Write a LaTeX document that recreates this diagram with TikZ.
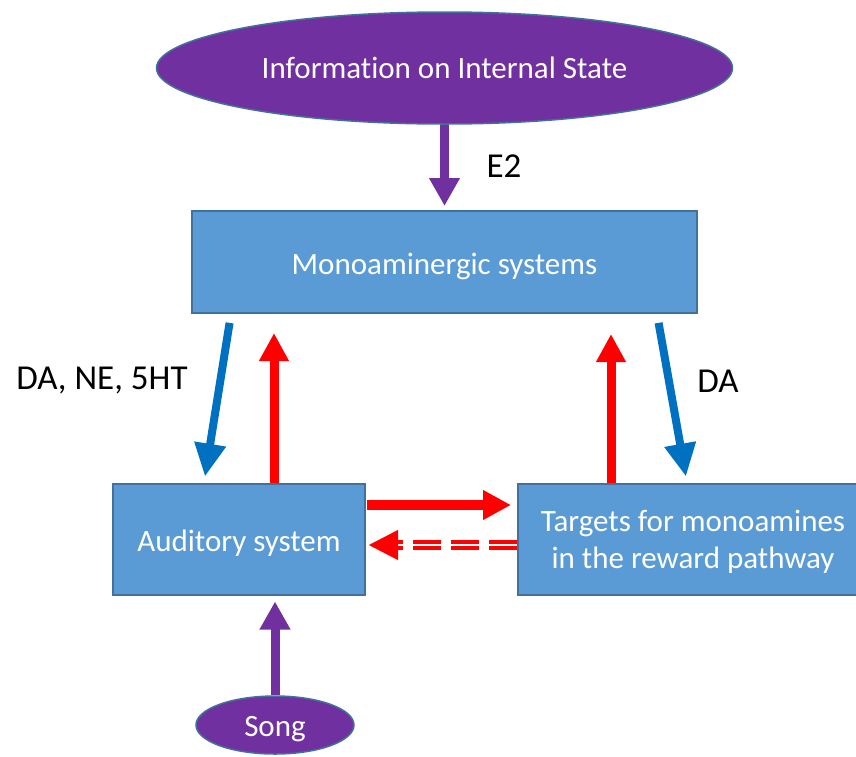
\documentclass[tikz,border=0pt]{standalone}
\usepackage{fontspec}
\setmainfont{Carlito}[Ligatures=NoCommon]
\usetikzlibrary{arrows.meta,shapes.geometric,calc}
\definecolor{ppl}{HTML}{7030A0}
\definecolor{boxfill}{HTML}{5B9BD5}
\definecolor{boxedge}{HTML}{41719C}
\definecolor{darrow}{HTML}{0070C0}
\definecolor{rarrow}{HTML}{FF0000}
\newcommand{\lowtext}[1]{\raisebox{0pt}[\dimexpr\height+8pt\relax][\depth]{#1}}
\tikzset{
  blk/.style={rectangle, draw=boxedge, line width=2pt, fill=boxfill, text=white, inner sep=0pt, align=center, font=\fontsize{31}{37}\selectfont},
  oval/.style={ellipse, draw=boxedge, line width=1.5pt, fill=ppl, text=white, inner sep=0pt, font=\fontsize{31}{37}\selectfont},
  lbl/.style={inner sep=0pt, text=black, font=\fontsize{35}{42}\selectfont},
  parrow/.style={draw=ppl, line width=9pt, -{Triangle[length=28pt,width=29pt]}},
  barrow/.style={draw=darrow, line width=8pt, -{Triangle[length=33pt,width=30pt]}},
  rarr/.style={draw=rarrow, line width=9pt, -{Triangle[length=28pt,width=28pt]}},
}
\begin{document}
\begin{tikzpicture}[x=1pt,y=-1pt]
\useasboundingbox (0,0) rectangle (856,756);
\node[oval, minimum width=576pt, minimum height=112pt] (info) at (444.5,68) {Information on Internal State};
\node[blk, minimum width=505pt, minimum height=102pt] (mono) at (444.5,262) {\lowtext{Monoaminergic systems}};
\node[blk, minimum width=252pt, minimum height=111pt] (aud) at (239,539) {\lowtext{Auditory system}};
\node[blk, minimum width=350pt, minimum height=111pt] (targ) at (693,539) {\lowtext{\begin{tabular}{@{}c@{}}Targets for monoamines\\in the reward pathway\end{tabular}}};
\node[oval, minimum width=158pt, minimum height=58pt] (song) at (275,725) {\lowtext{Song}};

\node[lbl] (e2) at (504,166) {E2};
\node[lbl] (dane) at (102,381) {DA, NE, 5HT};
\node[lbl] (da) at (718,381) {DA};

% E2 arrow
\draw[parrow, shorten >=4pt] (info.south) -- (info.south |- mono.north);
% blue arrows
\draw[barrow, shorten <=9pt, shorten >=6pt] ([xshift=40pt]mono.south west) -- ([xshift=92pt]aud.north west);
\draw[barrow, shorten <=9pt, shorten >=6pt] ([xshift=-41pt]mono.south east) -- ([xshift=170pt]targ.north west);
% red up arrows
\draw[rarr, shorten >=19pt] ([xshift=162pt]aud.north west) -- ([xshift=162pt]aud.north west |- mono.south);
\draw[rarr, shorten >=20pt] ([xshift=94pt]targ.north west) -- ([xshift=94pt]targ.north west |- mono.south);
% red right arrow
\draw[rarr, line width=10pt, shorten <=1pt, shorten >=6pt] ([yshift=34pt]aud.east) -- ([yshift=34pt]aud.east -| targ.west);
% dashed return arrow
\draw[draw=rarrow, line width=3.5pt, double=white, double distance=2.5pt, dash pattern=on 28pt off 10pt, shorten >=25pt] ([yshift=-6pt]targ.west) -- ([yshift=-6pt]targ.west -| aud.east);
\draw[draw=rarrow, line width=0.1pt, -{Triangle[length=29pt,width=30pt]}, shorten >=3pt] ([yshift=-6pt,xshift=-120pt]targ.west) -- ([yshift=-6pt]targ.west -| aud.east);
% song arrow
\draw[parrow, shorten >=6pt] (song.north) -- (aud.south -| song.north);
\end{tikzpicture}
\end{document}
